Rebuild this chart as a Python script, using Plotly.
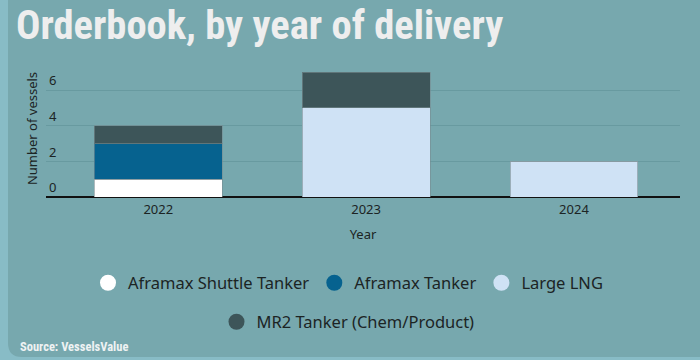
import plotly.graph_objects as go

years = ["2022", "2023", "2024"]
series_names = ["Aframax Shuttle Tanker", "Aframax Tanker", "Large LNG", "MR2 Tanker (Chem/Product)"]
shuttle = [1, 0, 0]
aframax = [2, 0, 0]
large_lng = [0, 5, 2]
mr2 = [1, 2, 0]
colors = ["#ffffff", "#06628f", "#cfe2f5", "#3d5559"]
y_ticks = [0, 2, 4, 6]

W, H = 700, 360
ML, MR, MT, MB = 46, 20, 60, 163
PW, PH = W - ML - MR, H - MT - MB

def px(xp):
    return (xp - ML) / PW

def py(yp):
    return (H - MB - yp) / PH

CARD = "#77a8ae"
OUTER = "#88bcc6"

fig = go.Figure()
values = [shuttle, aframax, large_lng, mr2]
for name, vals, col in zip(series_names, values, colors):
    fig.add_trace(go.Bar(
        x=years, y=vals, name=name, marker_color=col,
        marker_line=dict(color="rgba(120,140,145,0.6)", width=1),
        width=0.615, showlegend=False, legendgroup=name,
    ))

for i, (name, col) in enumerate(zip(series_names, colors)):
    fig.add_trace(go.Scatter(
        x=[None], y=[None], mode="markers", name=name, legendgroup=name,
        marker=dict(color=col, size=16, symbol="circle"),
        legend="legend" if i < 3 else "legend2",
    ))

# card shape with rounded corners
x0, x1, y0, y1, r = 8, 712, -12, 357, 14
path = (f"M {px(x0+r)},{py(y0)} L {px(x1)},{py(y0)} L {px(x1)},{py(y1)} "
        f"L {px(x0+r)},{py(y1)} Q {px(x0)},{py(y1)} {px(x0)},{py(y1-r)} "
        f"L {px(x0)},{py(y0+r)} Q {px(x0)},{py(y0)} {px(x0+r)},{py(y0)} Z")
fig.add_shape(type="path", path=path, xref="paper", yref="paper",
              fillcolor=CARD, line_width=0, layer="below")

fig.add_annotation(text="<b>Source: VesselsValue</b>", xref="paper", yref="paper",
                   x=px(18), y=py(346), xanchor="left", yanchor="middle",
                   showarrow=False, font=dict(size=12.5, color="#eef2f3",
                                               family="Liberation Sans Narrow, Roboto Condensed, Roboto, sans-serif"))

tick_font = dict(size=13, color="#1c2424", family="Noto Sans, sans-serif")
legend_common = dict(orientation="h", xanchor="center", yanchor="middle",
                     bgcolor="rgba(0,0,0,0)",
                     font=dict(size=16.5, color="#1c2424", family="Noto Sans, sans-serif"))

fig.update_layout(
    width=W, height=H,
    margin=dict(l=ML, r=MR, t=MT, b=MB, autoexpand=False),
    paper_bgcolor=OUTER, plot_bgcolor=CARD,
    barmode="stack", bargap=0.385,
    title=dict(text="<b>Orderbook, by year of delivery</b>", x=16 / W, xanchor="left",
               y=1 - 25 / H, yanchor="middle",
               font=dict(size=40.5, color="#eeeeee",
                         family="Liberation Sans Narrow, Roboto Condensed, Roboto, sans-serif")),
    xaxis=dict(range=[-0.54, 2.51], showgrid=False, tickfont=tick_font, automargin=False,
               ticklabelstandoff=3,
               title=dict(text="Year", font=tick_font, standoff=12),
               ticks="", showline=False, zeroline=False),
    yaxis=dict(range=[0, PH / 17.83], tickvals=y_ticks, tickfont=tick_font, automargin=False,
               ticklabelposition="inside top", gridcolor="#689aa0", gridwidth=1,
               zeroline=True, zerolinecolor="#111111", zerolinewidth=2,
               title=dict(text="Number of vessels", font=tick_font, standoff=8)),
    legend=dict(x=px(348), y=py(283), **legend_common),
    legend2=dict(x=px(348), y=py(322), **legend_common),
)

fig.write_html("out.html", config={"displayModeBar": False},
               post_script="document.body.style.margin='0px';"
                           "document.body.style.background='" + OUTER + "';")
